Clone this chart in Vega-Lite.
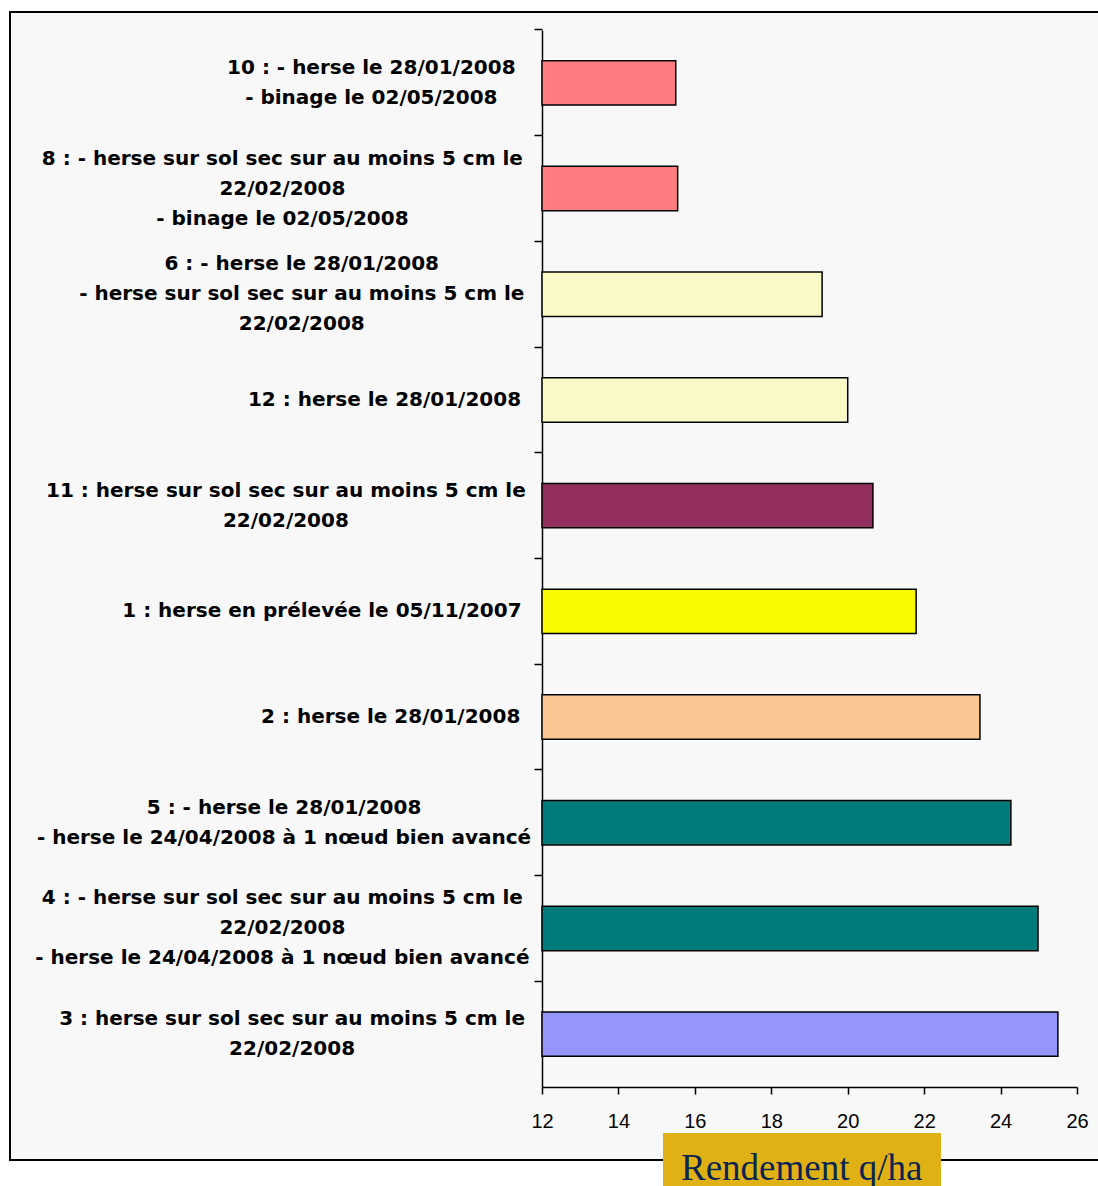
{
  "$schema": "https://vega.github.io/schema/vega-lite/v6.json",
  "autosize": "none",
  "width": 1092,
  "height": 1148,
  "padding": {"left": 10, "top": 12, "right": 0, "bottom": 26},
  "background": "white",
  "config": {
    "view": {"fill": "#F8F8F8", "stroke": "black", "strokeWidth": 2},
    "font": "Liberation Sans"
  },
  "data": {
    "values": [
      {"traitement": "10 : -  herse le 28/01/2008|-  binage le 02/05/2008", "rendement": 15.5, "couleur": "#FF7C80"},
      {"traitement": "8 : - herse sur sol sec sur au moins 5 cm le|22/02/2008|-  binage le 02/05/2008", "rendement": 15.55, "couleur": "#FF7C80"},
      {"traitement": "6 : - herse le 28/01/2008|- herse sur sol sec sur au moins 5 cm le|22/02/2008", "rendement": 19.33, "couleur": "#FAFAC6"},
      {"traitement": "12 : herse le 28/01/2008", "rendement": 20.0, "couleur": "#FAFAC6"},
      {"traitement": "11 : herse sur sol sec sur au moins 5 cm le|22/02/2008", "rendement": 20.66, "couleur": "#932F5E"},
      {"traitement": "1 : herse en prélevée le 05/11/2007", "rendement": 21.79, "couleur": "#FAFA00"},
      {"traitement": "2 : herse le 28/01/2008", "rendement": 23.46, "couleur": "#FAC691"},
      {"traitement": "5 : - herse le 28/01/2008|- herse le 24/04/2008 à 1 nœud bien avancé", "rendement": 24.27, "couleur": "#007A7A"},
      {"traitement": "4 : - herse sur sol sec sur au moins 5 cm le|22/02/2008|- herse le 24/04/2008 à 1 nœud bien avancé", "rendement": 24.98, "couleur": "#007A7A"},
      {"traitement": "3 : herse sur sol sec sur au moins 5 cm le|22/02/2008", "rendement": 25.5, "couleur": "#9595FA"}
    ]
  },
  "encoding": {
    "y": {
      "field": "traitement",
      "type": "nominal",
      "sort": null,
      "scale": {"range": [18, 1075], "paddingInner": 0.58, "paddingOuter": 0.29},
      "axis": {
        "title": null,
        "orient": "left",
        "offset": -532,
        "domainColor": "black",
        "domainWidth": 1.5,
        "tickColor": "black",
        "tickSize": 8,
        "tickWidth": 1.5,
        "bandPosition": -0.6905,
        "labels": false
      }
    }
  },
  "layer": [
    {
      "mark": {"type": "bar", "stroke": "black", "strokeWidth": 1.5},
      "encoding": {
        "x": {
          "field": "rendement",
          "type": "quantitative",
          "scale": {"domain": [12, 26], "range": [532, 1067], "nice": false, "zero": false, "clamp": true},
          "axis": {
            "title": null,
            "orient": "bottom",
            "offset": -73,
            "values": [12, 14, 16, 18, 20, 22, 24, 26],
            "format": "d",
            "grid": false,
            "domainColor": "black",
            "domainWidth": 1.5,
            "tickColor": "black",
            "tickSize": 7,
            "tickWidth": 1.5,
            "labelFont": "Liberation Sans",
            "labelFontSize": 20,
            "labelColor": "black",
            "labelPadding": 17,
            "labelFlush": false,
            "labelOverlap": false
          }
        },
        "fill": {"field": "couleur", "type": "nominal", "scale": null},
        "strokeDash": {
          "datum": "Rendement q/ha",
          "type": "nominal",
          "legend": {
            "orient": "none",
            "legendX": 653,
            "legendY": 1121,
            "title": "Rendement q/ha",
            "titleFont": "Liberation Serif",
            "titleFontSize": 37,
            "titleFontWeight": "normal",
            "titleColor": "#0B2451",
            "titlePadding": 0,
            "titleLimit": 600,
            "fillColor": "#DFB114",
            "padding": 18,
            "symbolSize": 0,
            "symbolOpacity": 0,
            "symbolStrokeWidth": 0,
            "labelExpr": "''",
            "labelFontSize": 1
          }
        }
      }
    },
    {
      "mark": {
        "type": "text",
        "align": "center",
        "baseline": "middle",
        "lineBreak": "|",
        "lineHeight": 30,
        "font": "DejaVu Sans",
        "fontWeight": "bold",
        "fontSize": 20,
        "color": "black",
        "dx": {"expr": "-20-0.5*max(12.35*length(split(datum.traitement,'|')[0])-5.35*(length(split(split(datum.traitement,'|')[0],' '))-1), 12.35*length(split(datum.traitement,'|')[1]||'')-5.35*(length(split(split(datum.traitement,'|')[1]||'',' '))-1), 12.35*length(split(datum.traitement,'|')[2]||'')-5.35*(length(split(split(datum.traitement,'|')[2]||'',' '))-1))"},
        "dy": {"expr": "-15*(length(split(datum.traitement,'|'))-1)"}
      },
      "encoding": {
        "x": {"datum": 12},
        "text": {"field": "traitement", "type": "nominal"}
      }
    }
  ]
}
